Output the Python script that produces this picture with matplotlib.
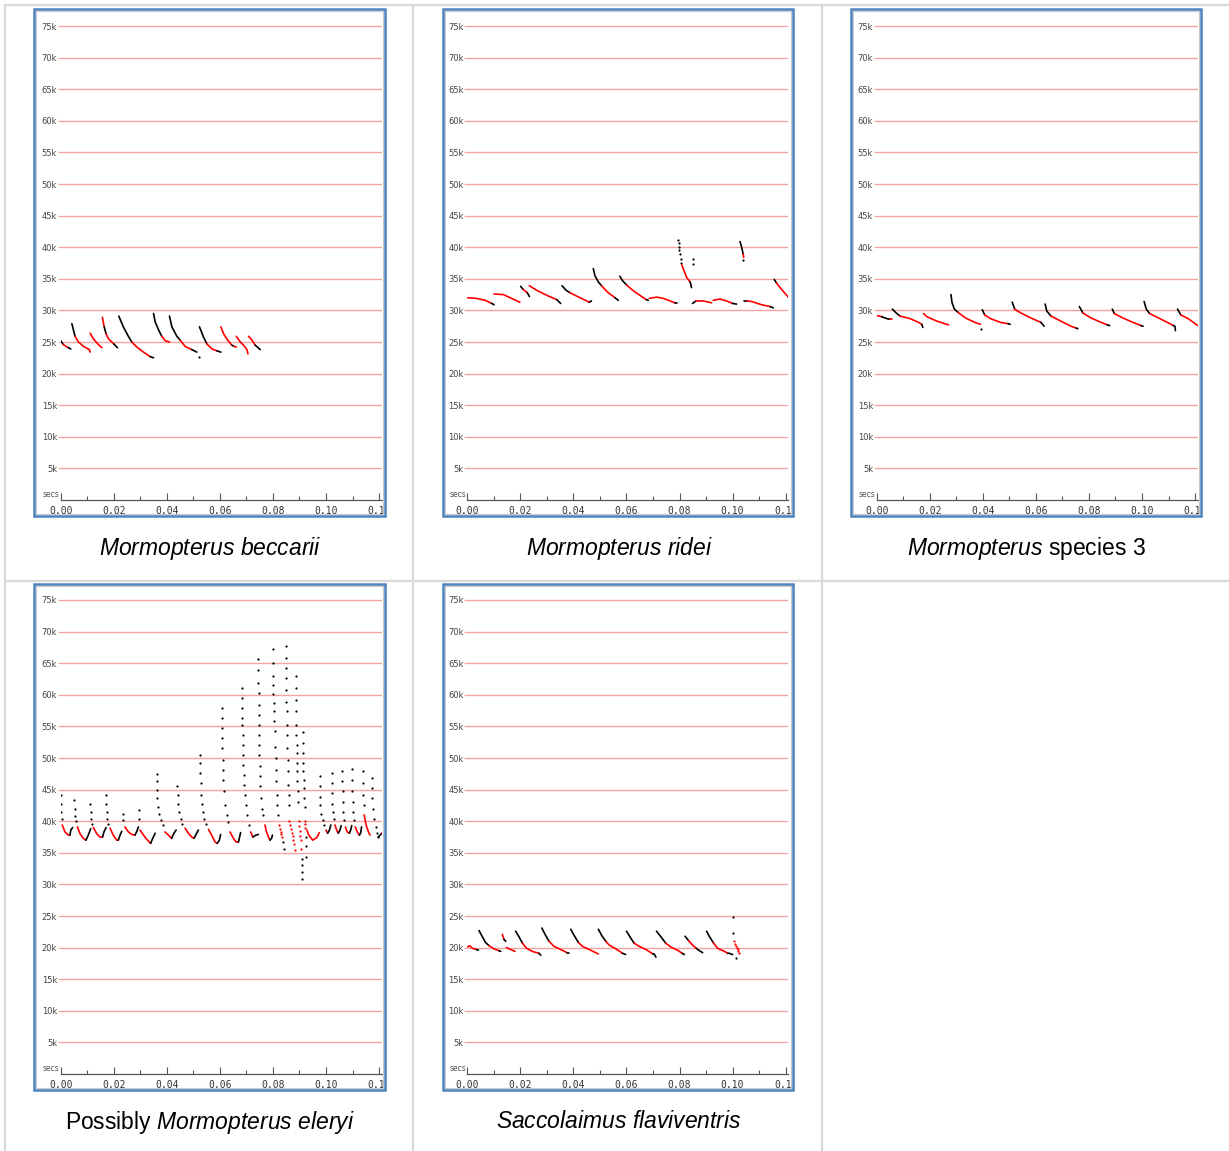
import matplotlib
matplotlib.use('Agg')
import matplotlib.pyplot as plt
from matplotlib.patches import Rectangle
from matplotlib.lines import Line2D

plt.rcParams['font.family'] = ['Liberation Sans', 'DejaVu Sans']
plt.rcParams['mathtext.fontset'] = 'custom'
plt.rcParams['mathtext.rm'] = 'Liberation Sans'
plt.rcParams['mathtext.it'] = 'Liberation Sans:italic'

W, H = 1229, 1151

# each stroke: (colour, time in ms, frequency in kHz)
# 'k' / 'r' = continuous trace, 'k.' / 'r.' = loose dots
beccarii = [
    ('k', [0, 1.0], [25.2, 24.6]), ('r', [1.0, 2.0, 2.9], [24.6, 24.3, 24.1]), ('k', [2.9, 3.8], [24.1, 23.9]),
    ('k', [4.2, 4.8, 5.4], [27.9, 26.9, 25.9]), ('r', [5.4, 6.7, 8.6, 10.8, 11.1], [25.9, 25.0, 24.3, 23.8, 23.4]),
    ('r', [11.1, 12.3, 14.2, 15.5], [26.4, 25.5, 24.6, 24.1]),
    ('r', [15.7, 16.4], [28.9, 27.4]), ('k', [16.4, 17.1], [27.4, 26.3]), ('r', [17.1, 18.0, 20.0], [26.3, 25.5, 24.7]), ('k', [20.0, 21.4], [24.7, 24.1]),
    ('k', [21.9, 23.6, 25.5, 26.8], [29.1, 27.4, 25.9, 25.0]), ('r', [26.8, 28.7, 31.2, 33.7], [25.0, 24.2, 23.4, 22.7]), ('k', [33.7, 35.0], [22.7, 22.5]),
    ('k', [35.0, 35.6, 36.9, 38.1], [29.5, 28.2, 26.9, 25.9]), ('r', [38.1, 39.4, 41.0], [25.9, 25.2, 25.0]),
    ('k', [41.0, 41.9, 43.8, 45.0], [29.1, 27.4, 25.9, 25.3]), ('r', [45.0, 46.9, 49.4], [25.3, 24.3, 23.8]), ('k', [49.4, 51.3], [23.8, 23.4]), ('k.', [52.0], [22.6]),
    ('k', [52.3, 53.8, 55.1], [27.4, 25.8, 24.7]), ('r', [55.1, 57.0, 58.9], [24.7, 23.9, 23.6]), ('k', [58.9, 60.4], [23.6, 23.4]),
    ('r', [60.4, 61.4, 62.9, 64.5], [27.4, 26.3, 25.3, 24.5]), ('k', [64.5, 65.4], [24.5, 24.3]), ('r', [65.4, 66.2], [24.3, 24.2]),
    ('r', [66.2, 67.7, 68.9, 70.2, 70.6], [25.9, 25.0, 24.5, 23.8, 23.1]),
    ('r', [70.8, 72.1, 73.3], [25.9, 25.3, 24.5]), ('k', [73.3, 75.2], [24.5, 23.8]),
]

ridei = [
    ('r', [0, 3.5, 6.7, 9.2], [32.0, 31.9, 31.6, 31.1]), ('k', [9.2, 10.1], [31.1, 30.9]),
    ('r', [10.1, 13.6, 16.7, 19.8], [32.6, 32.5, 31.9, 31.3]),
    ('k', [20.1, 21.1], [33.8, 33.3]), ('r', [21.1, 22.6], [33.3, 32.8]), ('k', [22.6, 23.4], [32.8, 32.2]),
    ('r', [23.4, 26.1, 29.9, 33.7], [33.9, 33.2, 32.4, 31.7]), ('k', [33.7, 35.2], [31.7, 31.1]),
    ('k', [35.7, 37.2, 38.7], [33.9, 33.2, 32.8]), ('r', [38.7, 42.5, 46.0], [32.8, 32.0, 31.3]), ('k', [46.0, 46.8], [31.3, 31.5]),
    ('k', [47.5, 48.1, 49.4, 50.6], [36.6, 35.5, 34.5, 33.9]), ('r', [50.6, 53.1, 55.7], [33.9, 32.8, 32.0]), ('k', [55.7, 56.9], [32.0, 31.6]),
    ('k', [57.5, 58.5, 60.1], [35.4, 34.7, 34.0]), ('r', [60.1, 62.6, 65.7, 67.5], [34.0, 33.1, 32.2, 31.7]), ('k', [67.5, 68.2], [31.7, 31.6]),
    ('r', [68.6, 71.4, 73.9, 76.4, 78.2], [31.9, 32.1, 31.9, 31.5, 31.2]), ('k', [78.2, 79.1], [31.2, 31.2]),
    ('k.', [79.6, 79.7, 79.8, 79.9, 80.1, 80.4, 80.7], [41.1, 40.6, 40.1, 39.6, 39.0, 38.2, 37.5]),
    ('r', [80.9, 81.2, 82.7, 84.0], [37.2, 36.8, 35.2, 34.5]), ('k', [84.0, 84.2, 84.5], [34.5, 34.2, 33.6]),
    ('k.', [84.9, 84.9], [38.1, 37.3]),
    ('k', [84.9, 86.2], [31.1, 31.5]), ('r', [86.2, 88.9, 92.1], [31.5, 31.5, 31.2]),
    ('r', [92.7, 95.2, 97.7, 100.0], [31.6, 31.8, 31.5, 31.1]), ('k', [100.0, 101.5], [31.1, 31.0]),
    ('k', [102.8, 103.4, 104.0], [40.9, 40.0, 38.9]), ('r', [104.0, 104.2], [38.9, 38.4]), ('k.', [104.0], [38.0]),
    ('k', [104.3, 105.5], [31.5, 31.5]), ('r', [105.5, 107.2, 110.9, 114.2], [31.5, 31.4, 30.9, 30.6]), ('k', [114.2, 115.3], [30.6, 30.4]),
    ('k', [115.7, 116.6], [34.9, 34.3]), ('r', [116.6, 118.5, 121.0], [34.3, 33.3, 32.1]),
]

species3 = [
    ('r', [0, 1.9], [29.2, 29.0]), ('k', [1.9, 3.8, 5.0], [29.0, 28.7, 28.6]), ('r', [5.0, 5.7], [28.6, 28.6]),
    ('k', [5.9, 7.6, 8.8], [30.2, 29.5, 29.1]), ('r', [8.8, 12.6, 15.8, 17.0], [29.1, 28.7, 28.1, 27.8]), ('k', [17.0, 17.4], [27.8, 27.3]),
    ('r', [17.7, 18.9, 22.7, 27.1], [29.5, 29.0, 28.3, 27.7]),
    ('k', [28.0, 28.4, 29.3, 30.6], [32.5, 31.2, 30.2, 29.7]), ('r', [30.6, 33.5, 37.0, 39.1], [29.7, 28.8, 28.1, 27.8]), ('k.', [39.5], [27.0]),
    ('k', [39.8, 40.7], [30.1, 29.3]), ('r', [40.7, 42.9, 46.7, 49.5], [29.3, 28.7, 28.1, 27.9]), ('k', [49.5, 50.3], [27.9, 27.8]),
    ('k', [51.1, 52.0], [31.3, 30.2]), ('r', [52.0, 54.3, 58.1, 61.9], [30.2, 29.6, 28.8, 28.1]), ('k', [61.9, 63.1], [28.1, 27.5]),
    ('k', [63.5, 64.1, 65.7], [31.0, 29.9, 29.1]), ('r', [65.7, 69.4, 73.2, 75.2], [29.1, 28.3, 27.5, 27.2]), ('k', [75.2, 75.8], [27.2, 27.1]),
    ('k', [76.4, 77.7], [30.6, 29.6]), ('r', [77.7, 80.8, 84.6, 87.0], [29.6, 28.8, 28.1, 27.7]), ('k', [87.0, 87.8], [27.7, 27.6]),
    ('k', [88.8, 89.6], [30.2, 29.5]), ('r', [89.6, 92.8, 96.6, 99.6], [29.5, 28.8, 28.1, 27.6]), ('k', [99.6, 100.4], [27.6, 27.5]),
    ('k', [100.8, 101.6, 102.9], [31.4, 30.2, 29.5]), ('r', [102.9, 106.7, 110.5, 111.8], [29.5, 28.7, 27.9, 27.6]), ('k', [111.8, 112.4, 112.6], [27.6, 27.5, 26.8]),
    ('k', [113.4, 114.6], [30.2, 29.3]), ('r', [114.6, 117.4, 121.0], [29.3, 28.7, 27.6]),
]

eleryi = [
    ('k.', [0, 0.1, 0.3, 0.4], [44.2, 42.8, 41.5, 40.4]), ('r', [0.6, 1.6, 2.9, 3.5], [39.4, 38.3, 37.8, 37.8]), ('k', [3.5, 3.8, 4.5], [37.8, 38.6, 39.0]),
    ('k.', [5.2, 5.3, 5.5, 5.8], [43.4, 42.0, 40.9, 40.0]), ('r', [6.3, 7.3, 8.5, 9.5], [39.1, 38.0, 37.3, 37.0]), ('k', [9.5, 10.4, 11.3], [37.0, 37.8, 38.8]),
    ('k.', [11.2, 11.3, 11.6, 11.8], [42.7, 41.5, 40.4, 39.6]), ('r', [12.3, 13.6, 14.8, 15.8], [39.0, 38.0, 37.5, 37.5]), ('k', [15.8, 16.3, 17.1], [37.5, 38.3, 39.0]),
    ('k.', [17.1, 17.2, 17.3, 17.6, 17.9], [44.2, 42.8, 41.5, 40.4, 39.6]), ('r', [18.6, 19.8, 21.1, 21.7], [38.9, 37.8, 37.0, 37.0]),
    ('k', [21.7, 22.4, 23.0], [37.0, 37.8, 38.4]), ('k.', [23.4, 23.6], [41.1, 40.2]),
    ('r', [24.2, 25.5, 26.8, 28.0], [39.1, 38.3, 37.9, 37.8]), ('k', [28.0, 28.6, 29.3], [37.8, 38.3, 39.1]), ('k.', [29.5, 29.5], [40.4, 41.7]),
    ('r', [29.9, 31.2, 32.7, 33.9], [38.6, 37.8, 37.0, 36.5]), ('k', [33.9, 34.7, 35.6], [36.5, 37.3, 38.1]),
    ('k.', [36.2, 36.2, 36.3, 36.4, 36.7, 37.1, 37.7, 38.4], [47.4, 46.3, 44.9, 43.6, 42.3, 41.2, 40.2, 39.4]),
    ('r', [39.3, 40.6, 41.8], [38.3, 37.8, 37.3]), ('k', [41.8, 42.7, 43.5], [37.3, 38.1, 38.6]),
    ('k.', [44.0, 44.1, 44.3, 44.7, 45.2, 45.9], [45.5, 44.2, 42.8, 41.5, 40.4, 39.6]),
    ('r', [46.9, 48.1, 49.4, 50.3], [38.9, 38.1, 37.5, 37.3]), ('k', [50.3, 51.0, 51.9], [37.3, 37.9, 38.6]),
    ('k.', [52.5, 52.5, 52.6, 52.8, 52.9, 53.1, 53.5, 54.0, 54.8], [50.5, 49.2, 47.6, 46.0, 44.2, 42.8, 41.5, 40.4, 39.5]),
    ('r', [55.7, 56.9, 58.2, 59.0], [38.7, 37.8, 36.7, 36.5]), ('k', [59.0, 59.8, 60.3], [36.5, 37.0, 37.9]),
    ('k.', [60.7, 60.7, 60.8, 60.8, 60.9, 61.0, 61.2, 61.3, 61.6, 61.9, 62.6, 63.2],
     [57.9, 56.3, 54.7, 53.1, 51.6, 49.7, 48.1, 46.5, 44.7, 42.6, 41.0, 39.9]),
    ('r', [63.8, 65.1, 66.1, 67.0], [38.3, 37.3, 36.7, 36.7]), ('k', [67.0, 67.6, 67.8], [36.7, 37.8, 38.2]),
    ('k.', [68.2, 68.3, 68.3, 68.5, 68.5, 68.6, 68.6, 68.8, 68.9, 69.1, 69.2, 69.5, 69.9, 70.3, 71.1],
     [61.1, 59.5, 57.9, 56.3, 55.3, 53.7, 52.1, 50.5, 48.9, 47.3, 45.7, 44.2, 42.6, 41.0, 39.4]),
    ('r', [71.6, 72.4], [38.3, 37.5]), ('k', [72.4, 73.6, 74.5], [37.5, 37.8, 37.9]),
    ('k.', [74.5, 74.5, 74.5, 74.6, 74.6, 74.7, 74.7, 74.8, 74.8, 74.9, 75.1, 75.1, 75.2, 75.5, 76.0, 76.4],
     [65.6, 64.0, 61.9, 60.3, 58.4, 56.8, 55.3, 53.7, 52.1, 50.5, 48.7, 47.1, 45.5, 43.6, 42.0, 41.0]),
    ('r', [77.0, 77.6, 78.3, 78.9], [39.4, 38.3, 37.5, 37.0]), ('k', [78.9, 79.5, 79.8], [37.0, 37.3, 37.8]),
    ('k.', [79.9, 79.9, 80.0, 80.0, 80.1, 80.3, 80.4, 80.5, 80.6, 80.8, 81.0, 81.1, 81.2, 81.4, 81.7, 82.0],
     [67.2, 65.0, 62.9, 61.6, 60.1, 58.7, 57.4, 55.8, 54.2, 51.8, 50.0, 48.1, 46.3, 44.2, 42.6, 41.0]),
    ('r.', [82.4, 82.6, 82.9, 83.1, 83.3], [39.4, 38.8, 38.3, 37.9, 37.5]), ('k.', [83.7, 84.2], [36.7, 35.6]),
    ('k.', [84.9, 84.9, 85.0, 85.0, 85.1, 85.1, 85.3, 85.3, 85.4, 85.4, 85.5, 85.6, 85.8, 85.9, 86.0],
     [67.7, 65.8, 64.3, 62.7, 60.8, 58.9, 57.4, 55.3, 53.7, 51.6, 49.7, 47.9, 45.7, 44.2, 42.6]),
    ('r.', [86.2, 86.5, 86.8, 87.1, 87.4, 87.7, 88.0, 88.4], [40.0, 39.4, 38.8, 38.2, 37.6, 37.0, 36.4, 35.4]),
    ('k.', [88.6, 88.6, 88.7, 88.7, 88.8, 88.8, 88.9, 88.9, 89.0, 89.0, 89.2, 89.3, 89.4],
     [62.9, 61.1, 59.2, 57.4, 55.3, 53.7, 52.1, 50.8, 49.2, 47.9, 46.3, 44.7, 43.1]),
    ('r.', [89.8, 89.9, 90.1, 90.3, 90.5, 90.7], [40.0, 39.2, 38.5, 37.7, 37.0, 35.6]), ('k.', [90.9, 91.0, 91.0, 91.0], [34.0, 33.0, 32.0, 30.8]),
    ('k.', [91.2, 91.3, 91.3, 91.4, 91.4, 91.6, 91.7, 91.7, 92.0], [54.1, 52.3, 50.8, 49.2, 47.9, 46.5, 45.2, 43.6, 42.3]),
    ('r.', [92.1, 92.1, 92.2], [40.1, 39.6, 39.0]), ('k.', [92.4, 92.5, 92.6], [37.5, 36.0, 34.3]),
    ('r', [92.8, 93.5, 95.0, 96.5, 97.5], [38.6, 37.8, 37.0, 37.4, 38.2]),
    ('k.', [97.7, 97.7, 97.8, 97.9, 98.2, 98.7, 99.2], [47.1, 45.5, 43.9, 42.6, 41.2, 40.2, 39.4]),
    ('r', [100.0, 100.6], [38.6, 38.1]), ('k', [100.6, 101.3, 101.8], [38.1, 38.6, 39.4]),
    ('k.', [102.1, 102.1, 102.2, 102.4, 102.6, 103.0], [47.6, 46.0, 44.4, 42.8, 41.5, 40.4]),
    ('r', [103.4, 104.0, 104.6], [39.4, 38.6, 38.1]), ('k', [104.6, 105.3, 105.7], [38.1, 38.6, 39.3]),
    ('k.', [106.2, 106.2, 106.3, 106.4, 106.5, 106.9], [48.0, 46.4, 44.7, 43.1, 41.5, 40.2]),
    ('r', [107.3, 108.0, 108.8], [39.1, 38.3, 38.1]), ('k', [108.8, 109.3, 109.7], [38.1, 38.6, 39.3]),
    ('k.', [109.7, 109.8, 109.9, 110.1, 110.2, 110.6], [48.3, 46.5, 44.7, 43.1, 41.5, 40.2]),
    ('r', [111.0, 111.8, 112.6], [39.1, 38.3, 37.8]), ('k', [112.6, 113.1, 113.4], [37.8, 38.2, 39.1]),
    ('k.', [113.8, 113.9, 114.1, 114.2], [47.9, 46.0, 44.2, 42.6]),
    ('r', [114.4, 115.1, 116.0, 116.6], [41.0, 39.4, 38.3, 37.8]),
    ('k.', [117.2, 117.3, 117.5, 117.8, 118.2, 118.8, 119.3, 119.7], [46.8, 45.2, 43.6, 42.0, 40.4, 39.1, 38.1, 37.5]),
    ('k', [119.7, 120.4, 121.0], [37.5, 37.8, 38.1]), ('r', [121.0, 121.4], [38.1, 38.2]),
]

flaviventris = [
    ('r', [0, 0.9, 1.9, 3.4], [20.1, 20.3, 19.9, 19.7]), ('k', [3.4, 4.2], [19.7, 19.6]),
    ('k', [4.4, 5.7, 6.9, 8.2], [22.7, 21.7, 20.8, 20.3]), ('r', [8.2, 10.1, 12.0], [20.3, 19.8, 19.5]), ('k', [12.0, 12.6], [19.5, 19.4]),
    ('r', [13.2, 13.8], [22.1, 21.3]), ('k', [13.8, 14.5], [21.3, 21.0]),
    ('r', [14.7, 16.4, 18.0], [20.0, 19.7, 19.4]),
    ('k', [18.2, 19.5, 20.8], [22.6, 21.7, 20.7]), ('r', [20.8, 22.3, 24.5, 27.0], [20.7, 19.9, 19.4, 19.1]), ('k', [27.0, 27.7], [19.1, 18.8]),
    ('k', [28.1, 29.3, 30.8], [23.1, 22.1, 21.0]), ('r', [30.8, 32.7, 35.2, 37.6], [21.0, 20.2, 19.7, 19.2]), ('k', [37.6, 38.4], [19.2, 19.2]),
    ('k', [39.0, 40.3, 41.9], [22.9, 21.9, 20.8]), ('r', [41.9, 43.4, 45.9, 49.4], [20.8, 20.2, 19.7, 19.0]),
    ('k', [49.4, 50.7, 52.2], [22.9, 21.9, 21.0]), ('r', [52.2, 53.5, 56.0, 58.5], [21.0, 20.4, 19.8, 19.1]), ('k', [58.5, 59.7], [19.1, 18.9]),
    ('k', [60.0, 61.6, 62.9], [22.6, 21.5, 20.7]), ('r', [62.9, 64.8, 67.3, 70.0], [20.7, 20.2, 19.7, 19.0]), ('k', [70.0, 70.4, 71.1], [19.0, 19.0, 18.5]),
    ('k', [71.3, 73.0, 74.8], [22.6, 21.7, 20.7]), ('r', [74.8, 76.7, 79.2, 81.0], [20.7, 20.1, 19.6, 19.1]), ('k', [81.0, 81.8], [19.1, 18.9]),
    ('k', [82.1, 83.4], [21.8, 21.1]), ('r', [83.4, 84.9, 86.3], [21.1, 20.4, 19.9]), ('k', [86.3, 86.8, 88.7], [19.9, 19.7, 19.2]),
    ('k', [90.2, 91.2, 92.7], [22.6, 21.8, 20.8]), ('r', [92.7, 94.3, 96.9, 98.2], [20.8, 19.9, 19.4, 19.1]), ('k', [98.2, 98.7, 100.0], [19.1, 19.1, 18.9]),
    ('k.', [100.3, 100.3], [24.9, 22.3]), ('r.', [100.6, 100.9, 101.3, 101.6, 101.9, 102.2, 102.5], [21.0, 20.6, 20.2, 19.9, 19.7, 19.4, 19.2]), ('k.', [101.3], [18.3]),
]

captions = [
    r'$\mathit{Mormopterus\ beccarii}$',
    r'$\mathit{Mormopterus\ ridei}$',
    r'$\mathit{Mormopterus}$ species 3',
    r'Possibly $\mathit{Mormopterus\ eleryi}$',
    r'$\mathit{Saccolaimus\ flaviventris}$',
]
panels = [beccarii, ridei, species3, eleryi, flaviventris]
freq_ticks = [5, 10, 15, 20, 25, 30, 35, 40, 45, 50, 55, 60, 65, 70, 75]
time_ticks = [0, 20, 40, 60, 80, 100, 120]
time_labels = ['0.00', '0.02', '0.04', '0.06', '0.08', '0.10', '0.1']

# pixel layout of the table cells
col_x = [60.7, 467.3, 876.7]
frame_x = [(34, 385), (443, 793), (851, 1201)]
row_y0 = [500, 1074]
frame_y = [(9, 516), (584, 1090)]
cap_x = [210, 619, 1026]
cap_y = [548, 1122]
PX_MS = 2.653
PX_KHZ = 6.32
TMAX = 121.0
FMAX = 77.3

fig = plt.figure(figsize=(W / 100, H / 100), dpi=100)


def fx(px):
    return px / W


def fy(py):
    return 1 - py / H


# table lines
grid_c = '#d9d9d9'
for y in [5, 580.5]:
    fig.add_artist(Line2D([fx(5), 1], [fy(y), fy(y)], color=grid_c, lw=1.6))
for x in [5, 413, 822]:
    fig.add_artist(Line2D([fx(x), fx(x)], [fy(5), 0], color=grid_c, lw=1.6))

for i, data in enumerate(panels):
    r, c = divmod(i, 3)
    x0, y0 = col_x[c], row_y0[r]
    fl, fr = frame_x[c]
    ft, fb = frame_y[r]
    # inner window border then blue frame
    fig.add_artist(Rectangle((fx(fl + 2), fy(fb - 2)), (fr - fl - 4) / W, (fb - ft - 4) / H,
                             fill=False, ec='#c8c8c8', lw=0.8))
    fig.add_artist(Rectangle((fx(fl), fy(fb)), (fr - fl) / W, (fb - ft) / H,
                             fill=False, ec='#4f81bd', lw=1.8))

    ax = fig.add_axes([fx(x0), fy(y0), TMAX * PX_MS / W, FMAX * PX_KHZ / H])
    ax.set_xlim(0, TMAX)
    ax.set_ylim(0, FMAX)
    for s in ['top', 'right', 'left']:
        ax.spines[s].set_visible(False)
    ax.spines['bottom'].set_color('#555555')
    ax.spines['bottom'].set_linewidth(0.9)

    for f in freq_ticks:
        ax.axhline(f, color='#f4a3a3', lw=1.0, zorder=1)
    ax.set_yticks(freq_ticks)
    ax.set_yticklabels([f'{f}k' for f in freq_ticks], fontsize=6, color='#444444',
                       family='DejaVu Sans')
    ax.tick_params(axis='y', length=2, width=0.8, color='#f4a3a3', pad=0.5)

    ax.set_xticks(time_ticks)
    ax.set_xticks(range(10, 121, 20), minor=True)
    ax.set_xticklabels([])
    ax.tick_params(axis='x', which='major', direction='in', length=5, width=0.8, color='#555555')
    ax.tick_params(axis='x', which='minor', direction='in', length=3, width=0.8, color='#555555')
    for t, lab in zip(time_ticks, time_labels):
        if t == 120:
            ax.text(115.6, -0.9, lab, ha='left', va='top', fontsize=7, color='#333333',
                    family='DejaVu Sans Mono')
        else:
            ax.text(t, -0.9, lab, ha='center', va='top', fontsize=7, color='#333333',
                    family='DejaVu Sans Mono')
    ax.text(-0.4, 0.2, 'secs', ha='right', va='bottom', fontsize=5.5, color='#555555',
            family='DejaVu Sans')

    for colour, ts, fs in data:
        col = '#000000' if colour.startswith('k') else '#ff0000'
        if colour.endswith('.'):
            ax.plot(ts, fs, 'o', color=col, ms=1.6, mew=0, zorder=3)
        else:
            ax.plot(ts, fs, '-', color=col, lw=1.2, zorder=3, solid_capstyle='round')

    fig.text(fx(cap_x[c]), fy(cap_y[r]), captions[i], ha='center', va='center', fontsize=16.5)

fig.savefig('out.png', dpi=100)
